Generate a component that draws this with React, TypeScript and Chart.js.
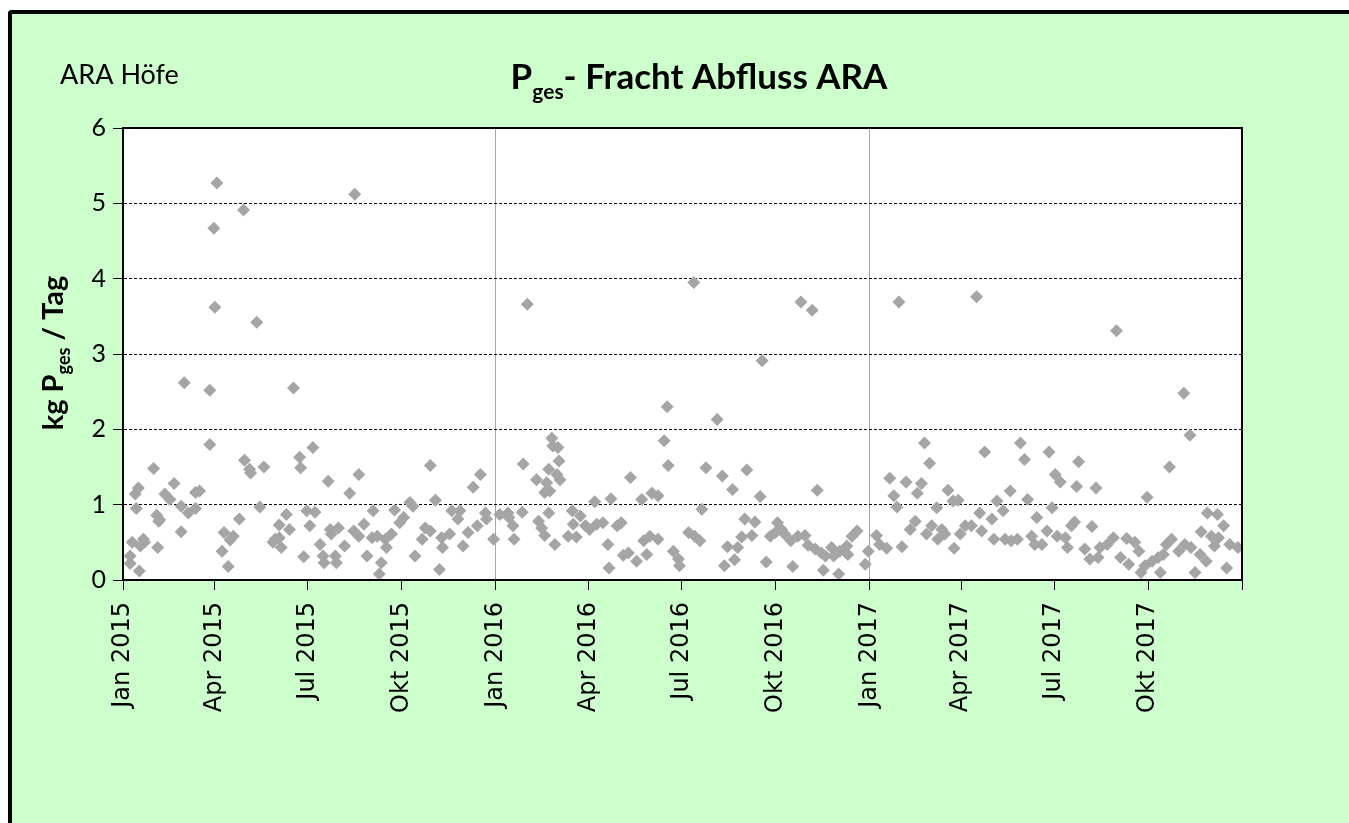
import React, { useEffect, useRef } from "react";
import { Chart, registerables } from "chart.js";

Chart.register(...registerables);

// x positions are days since 1 Jan 2015
const quarterDays = [0, 90, 181, 273, 365, 456, 547, 639, 731, 821, 912, 1004, 1096];
const quarterLabels = [
  "Jan 2015", "Apr 2015", "Jul 2015", "Okt 2015",
  "Jan 2016", "Apr 2016", "Jul 2016", "Okt 2016",
  "Jan 2017", "Apr 2017", "Jul 2017", "Okt 2017", "",
];
const yTicks = [0, 1, 2, 3, 4, 5, 6];

// [day since 1 Jan 2015, kg Pges / Tag]
const samples2015: [number, number][] = [
  [7, 0.32], [7, 0.22], [9, 0.5], [12, 1.14], [13, 0.95], [15, 1.22], [16, 0.12], [17, 0.45],
  [20, 0.54], [21, 0.5], [30, 1.48], [33, 0.86], [34, 0.43], [35, 0.78], [36, 0.8], [41, 1.14],
  [46, 1.07], [50, 1.28], [57, 0.98], [57, 0.64], [60, 2.62], [64, 0.89], [71, 1.16], [71, 0.95],
  [75, 1.18], [85, 2.52], [85, 1.8], [89, 4.67], [90, 3.62], [92, 5.27], [97, 0.38], [99, 0.63],
  [103, 0.18], [105, 0.53], [108, 0.58], [114, 0.81], [118, 4.91], [119, 1.59], [124, 1.47], [125, 1.42],
  [131, 3.42], [134, 0.97], [138, 1.5], [147, 0.5], [149, 0.54], [153, 0.73], [153, 0.56], [155, 0.43],
  [160, 0.87], [163, 0.67], [167, 2.55], [173, 1.63], [174, 1.49], [177, 0.31], [180, 0.92], [183, 0.72],
  [186, 1.76], [188, 0.9], [193, 0.47], [196, 0.32], [197, 0.23], [201, 1.31], [203, 0.67], [204, 0.61],
  [208, 0.32], [209, 0.23], [211, 0.69], [217, 0.45], [222, 1.15], [226, 0.65], [227, 5.12], [231, 1.4],
  [231, 0.58], [236, 0.74], [239, 0.32], [244, 0.56], [245, 0.92], [249, 0.58], [251, 0.08], [253, 0.23],
  [257, 0.54], [258, 0.43], [263, 0.61], [266, 0.93], [271, 0.76], [275, 0.83], [281, 1.03], [284, 0.98],
  [286, 0.32], [293, 0.54], [296, 0.69], [301, 1.52], [301, 0.65], [306, 1.06], [310, 0.14], [312, 0.56],
  [313, 0.43], [320, 0.61], [322, 0.92], [328, 0.81], [330, 0.92], [333, 0.45], [338, 0.63], [343, 1.23],
  [347, 0.72], [350, 1.4], [355, 0.89], [356, 0.81], [363, 0.54],
];

const samples2016: [number, number][] = [
  [369, 0.87], [377, 0.89], [378, 0.83], [382, 0.72], [383, 0.54], [391, 0.9], [392, 1.54], [396, 3.66],
  [405, 1.33], [407, 0.78], [410, 0.69], [413, 1.16], [413, 0.59], [415, 1.29], [417, 1.47], [417, 0.89],
  [418, 1.18], [420, 1.88], [421, 1.78], [423, 0.47], [425, 1.4], [426, 1.76], [427, 1.58], [428, 1.33],
  [436, 0.58], [440, 0.92], [441, 0.74], [444, 0.57], [448, 0.85], [453, 0.72], [457, 0.67], [462, 1.04],
  [464, 0.74], [470, 0.76], [475, 0.47], [476, 0.16], [478, 1.08], [484, 0.72], [488, 0.76], [490, 0.33],
  [495, 0.36], [497, 1.36], [503, 0.25], [508, 1.07], [510, 0.52], [513, 0.34], [516, 0.58], [518, 1.15],
  [524, 1.12], [524, 0.54], [530, 1.85], [533, 2.3], [534, 1.52], [539, 0.38], [544, 0.28], [545, 0.19],
  [554, 0.63], [559, 3.95], [560, 0.58], [565, 0.52], [567, 0.94], [571, 1.49], [582, 2.13], [587, 1.38],
  [589, 0.19], [592, 0.44], [597, 1.2], [599, 0.27], [602, 0.43], [606, 0.57], [609, 0.81], [611, 1.46],
  [616, 0.59], [619, 0.77], [624, 1.11], [626, 2.91], [630, 0.24], [634, 0.58], [639, 0.63], [641, 0.76],
  [645, 0.67], [648, 0.61], [654, 0.52], [656, 0.18], [661, 0.58], [664, 3.69], [668, 0.59], [671, 0.46],
  [675, 3.58], [678, 0.41], [680, 1.19], [684, 0.36], [686, 0.13], [688, 0.32], [694, 0.43], [696, 0.32],
  [701, 0.08], [702, 0.38], [709, 0.45], [710, 0.34], [714, 0.58], [719, 0.65], [727, 0.21], [730, 0.38],
];

const samples2017: [number, number][] = [
  [738, 0.59], [741, 0.47], [748, 0.42], [751, 1.35], [755, 1.12], [758, 0.97], [760, 3.69], [763, 0.44],
  [767, 1.3], [771, 0.67], [776, 0.78], [778, 1.15], [782, 1.28], [785, 1.82], [787, 0.61], [790, 1.55],
  [792, 0.72], [797, 0.96], [798, 0.54], [802, 0.67], [805, 0.61], [808, 1.19], [813, 1.05], [814, 0.42],
  [818, 1.06], [820, 0.61], [825, 0.72], [831, 0.72], [836, 3.76], [839, 0.89], [841, 0.65], [844, 1.7],
  [851, 0.81], [853, 0.54], [856, 1.05], [862, 0.92], [864, 0.54], [869, 1.18], [870, 0.52], [876, 0.54],
  [879, 1.82], [883, 1.6], [886, 1.07], [890, 0.58], [893, 0.47], [895, 0.83], [900, 0.47], [905, 0.65],
  [907, 1.7], [910, 0.96], [913, 1.4], [915, 0.58], [918, 1.3], [923, 0.56], [925, 0.43], [929, 0.72],
  [932, 0.77], [934, 1.24], [936, 1.57], [942, 0.41], [947, 0.28], [949, 0.71], [953, 1.22], [955, 0.3],
  [957, 0.43], [964, 0.47], [970, 0.56], [973, 3.31], [977, 0.3], [983, 0.55], [985, 0.21], [991, 0.5],
  [995, 0.38], [997, 0.1], [1001, 0.19], [1003, 1.1], [1008, 0.25], [1014, 0.3], [1016, 0.1], [1019, 0.34],
  [1022, 0.47], [1025, 1.5], [1027, 0.54], [1034, 0.38], [1039, 2.48], [1040, 0.47], [1045, 1.92], [1046, 0.43],
  [1050, 0.1], [1055, 0.34], [1056, 0.64], [1061, 0.25], [1062, 0.89], [1066, 0.58], [1069, 0.45], [1072, 0.87],
  [1073, 0.56], [1078, 0.72], [1081, 0.16], [1084, 0.47], [1092, 0.43],
];

const W = 1349;
const H = 823;
const FONT = "Lato, 'Open Sans', sans-serif";

type Part = { text: string; size: number; dy: number };

function drawParts(ctx: CanvasRenderingContext2D, parts: Part[], weight: string, cx: number, baseY: number) {
  let total = 0;
  for (const p of parts) {
    ctx.font = `${weight} ${p.size}px ${FONT}`;
    total += ctx.measureText(p.text).width;
  }
  let x = cx - total / 2;
  ctx.textAlign = "left";
  ctx.textBaseline = "alphabetic";
  for (const p of parts) {
    ctx.font = `${weight} ${p.size}px ${FONT}`;
    ctx.fillText(p.text, x, baseY + p.dy);
    x += ctx.measureText(p.text).width;
  }
}

const decorPlugin = {
  id: "decor",
  beforeDraw(chart: any) {
    const { ctx, chartArea: a } = chart;
    ctx.save();
    ctx.fillStyle = "#ffffff";
    ctx.fillRect(a.left, a.top, a.right - a.left, a.bottom - a.top);
    ctx.restore();
  },
  afterDraw(chart: any) {
    const { ctx, chartArea: a } = chart;
    ctx.save();
    ctx.strokeStyle = "#000";
    ctx.lineWidth = 2;
    ctx.strokeRect(a.left, a.top, a.right - a.left, a.bottom - a.top);

    ctx.fillStyle = "#000";
    // title
    drawParts(
      ctx,
      [
        { text: "P", size: 35, dy: 0 },
        { text: "ges", size: 21, dy: 10 },
        { text: "- Fracht Abfluss ARA", size: 35, dy: 0 },
      ],
      "bold",
      699,
      89
    );
    // plant name
    ctx.font = `normal 27px ${FONT}`;
    ctx.textAlign = "left";
    ctx.fillText("ARA Höfe", 60, 84);

    // y axis title
    ctx.translate(63, 353);
    ctx.rotate(-Math.PI / 2);
    drawParts(
      ctx,
      [
        { text: "kg P", size: 29, dy: 0 },
        { text: "ges", size: 18, dy: 7 },
        { text: " / Tag", size: 29, dy: 0 },
      ],
      "bold",
      0,
      0
    );
    ctx.restore();
  },
};

export default function App() {
  const ref = useRef<HTMLCanvasElement | null>(null);

  useEffect(() => {
    if (!ref.current) return;
    const all = [...samples2015, ...samples2016, ...samples2017];
    const chart = new Chart(ref.current, {
      type: "scatter",
      data: {
        datasets: [
          {
            label: "Pges Fracht",
            data: all.map(([d, v]) => ({ x: d, y: v })),
            pointStyle: "rectRot",
            pointRadius: 6.5,
            pointHoverRadius: 6.5,
            backgroundColor: "#A5A5A5",
            borderColor: "#A5A5A5",
            borderWidth: 0,
            showLine: false,
          },
        ],
      },
      options: {
        animation: false,
        responsive: false,
        devicePixelRatio: 1,
        events: [],
        layout: { padding: { top: 128, right: 107, left: 0, bottom: 0 } },
        plugins: {
          legend: { display: false },
          title: { display: false },
          tooltip: { enabled: false },
        },
        scales: {
          x: {
            type: "linear",
            min: quarterDays[0],
            max: quarterDays[quarterDays.length - 1],
            afterBuildTicks: (scale: any) => {
              scale.ticks = quarterDays.map((v) => ({ value: v }));
            },
            afterFit: (scale: any) => {
              scale.height = H - 580;
            },
            ticks: {
              autoSkip: false,
              minRotation: 90,
              maxRotation: 90,
              padding: 12,
              color: "#000",
              font: { family: "DejaVu Sans", size: 24 },
              callback: (_v: any, i: number) => quarterLabels[i],
            },
            grid: {
              drawTicks: true,
              tickLength: 10,
              tickColor: "#000",
              lineWidth: 1,
              color: (ctx: any) =>
                ctx.tick && (ctx.tick.value === 365 || ctx.tick.value === 731) ? "#A6A6A6" : "rgba(0,0,0,0)",
            },
            border: { display: true, color: "#000", width: 2 },
          },
          y: {
            min: yTicks[0],
            max: yTicks[yTicks.length - 1],
            afterBuildTicks: (scale: any) => {
              scale.ticks = yTicks.map((v) => ({ value: v }));
            },
            afterFit: (scale: any) => {
              scale.width = 123;
            },
            ticks: {
              padding: 7,
              color: "#000",
              font: { family: FONT, size: 25 },
            },
            grid: {
              drawTicks: true,
              tickLength: 10,
              tickColor: "#000",
              color: "#000",
              lineWidth: 1,
            },
            border: { display: true, color: "#000", width: 2, dash: [3, 2] },
          },
        },
      },
      plugins: [decorPlugin],
    });
    return () => chart.destroy();
  }, []);

  return (
    <div style={{ position: "fixed", left: 0, top: 0, width: W, height: H, overflow: "hidden", background: "#fff" }}>
      <div
        style={{
          position: "absolute",
          left: 8,
          top: 10,
          width: W,
          height: H,
          background: "#CCFFCC",
          borderTop: "4px solid #000",
          borderLeft: "4px solid #000",
          borderTopLeftRadius: 4,
        }}
      />
      <canvas
        ref={ref}
        width={W}
        height={H}
        style={{ position: "absolute", left: 0, top: 0, width: W, height: H }}
      />
    </div>
  );
}
